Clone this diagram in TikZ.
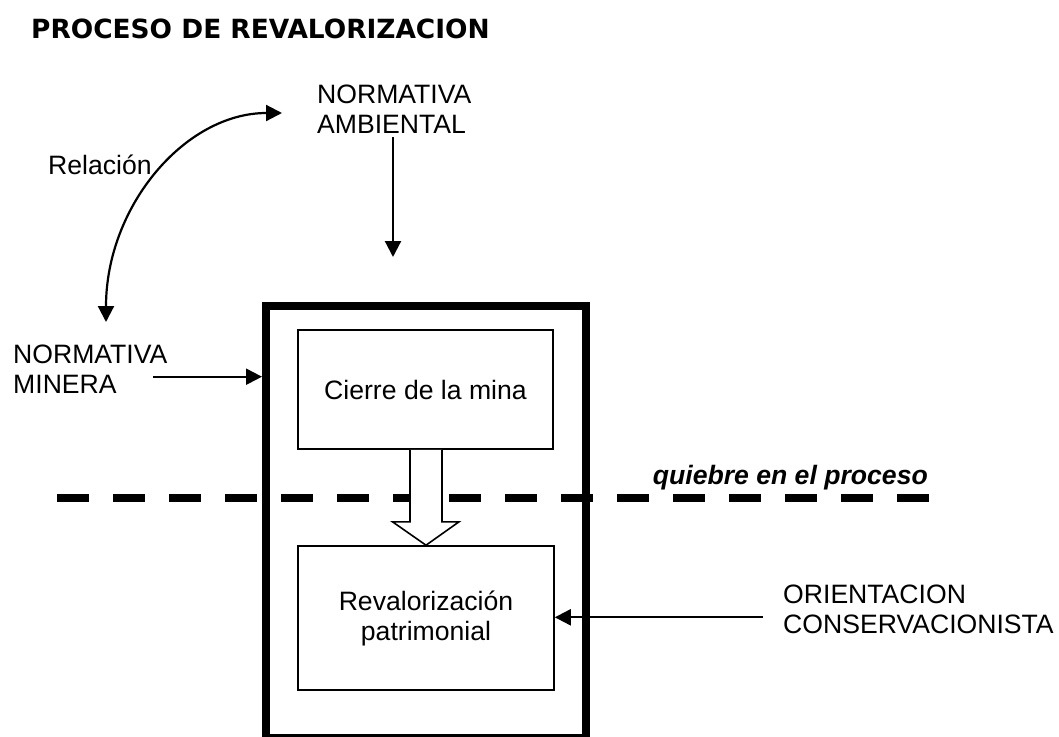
\documentclass[tikz,border=0pt]{standalone}
\usepackage{fontspec}
\setmainfont{Liberation Sans}
\newfontfamily\titlefont{DejaVu Sans}
\usetikzlibrary{arrows.meta,calc}
\begin{document}
\begin{tikzpicture}[x=1pt,y=-1pt,
  txt/.style={inner sep=0pt, align=left, font=\fontsize{26.6}{30}\selectfont},
  ctxt/.style={align=center, font=\fontsize{26.6}{30}\selectfont},
  innerbox/.style={draw, line width=1.6pt, inner sep=0pt},
  arr/.style={line width=2.2pt, -{Triangle[length=16pt,width=16pt]}},
  dblarr/.style={line width=2.2pt, {Triangle[length=16pt,width=16pt]}-{Triangle[length=16pt,width=16pt]}},
  breakline/.style={line width=8pt, dash pattern=on 32pt off 24pt},
  blockarrow/.style={draw, fill=white, line width=1.6pt, line join=miter}
]
\fill[white] (0,0) rectangle (1059,736);
\useasboundingbox (0,0) rectangle (1059,736);

% title
\node[anchor=base west, inner sep=0pt, font=\titlefont\bfseries\fontsize{26.4}{30}\selectfont] (title) at (31,38.4) {PROCESO DE REVALORIZACION};

% side labels
\node[txt, anchor=north west] (amb) at (317,84.5) {NORMATIVA\\AMBIENTAL};
\node[txt, anchor=north west] (min) at (13,345) {NORMATIVA\\MINERA};
\node[txt, anchor=north west] (ori) at (783,585) {ORIENTACION\\CONSERVACIONISTA};
\node[txt, anchor=north west] (rel) at (48,155) {Relación};

% break line
\coordinate (dashL) at (57,498);
\coordinate (dashR) at (929,498);
\draw[breakline] (dashL) -- (dashR);
\node[anchor=base east, inner sep=0pt, font=\fontsize{26.6}{30}\selectfont\bfseries\itshape] (quiebre) at (928,484) {quiebre en el proceso};

% outer thick frame
\draw[line width=8pt] (266,306) rectangle (586,737.5);
\coordinate (outerL) at (262,376.7);

% inner boxes
\node[innerbox, ctxt, minimum width=255pt, minimum height=119pt] (cierre) at (425.5,389.5) {Cierre de la mina};
\node[innerbox, ctxt, minimum width=256pt, minimum height=144pt] (reval) at (426,618) {Revalorización\\patrimonial};

% block arrow from cierre to reval
\draw[blockarrow]
  ($(cierre.south)+(-15.5,0)$) -- ($(cierre.south)+(-15.5,72)$) -- ($(cierre.south)+(-33,72)$)
  -- (reval.north)
  -- ($(cierre.south)+(33.5,72)$) -- ($(cierre.south)+(16.5,72)$) -- ($(cierre.south)+(16.5,0)$);

% arrows
\coordinate (ambS) at (393,137);
\coordinate (ambE) at (393,257);
\draw[arr] (ambS) -- (ambE);

\coordinate (minS) at (153,376.7);
\draw[arr] (minS) -- (outerL);

\coordinate (oriS) at (763,617.3);
\draw[arr] (oriS) -- (reval.east |- oriS);

\coordinate (relTop) at (282,113);
\coordinate (relBot) at (106,322);
\draw[dblarr] (relBot) .. controls (106,206.6) and (184.8,113) .. (relTop);
\end{tikzpicture}
\end{document}
